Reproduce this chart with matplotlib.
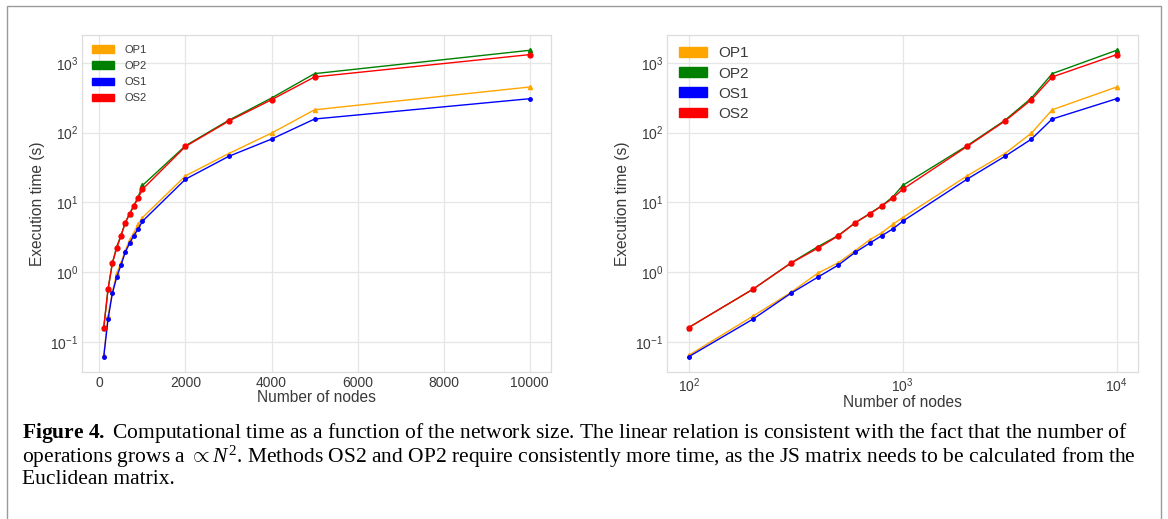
import matplotlib
matplotlib.use("Agg")
import matplotlib.pyplot as plt
from matplotlib.patches import Patch, Rectangle

# -----------------------------
# Data
# -----------------------------
nodes = [100, 200, 300, 400, 500, 600, 700, 800, 900, 1000, 2000, 3000, 4000, 5000, 10000]

op1_time = [0.064, 0.234, 0.51, 0.96, 1.36, 2.03, 2.89, 3.68, 4.85, 6.05, 24.0, 50.0, 98.6, 213, 452]
op2_time = [0.16, 0.57, 1.35, 2.30, 3.35, 5.1, 6.9, 9.0, 12.0, 17.5, 65.0, 150, 314, 703, 1520]
os1_time = [0.061, 0.212, 0.495, 0.84, 1.26, 1.92, 2.59, 3.34, 4.16, 5.36, 21.5, 45.6, 80.9, 157, 307]
os2_time = [0.16, 0.57, 1.34, 2.19, 3.30, 5.1, 6.8, 8.9, 11.5, 15.4, 63.4, 146, 297, 630, 1318]

series_labels = ["OP1", "OP2", "OS1", "OS2"]
series_colors = ["orange", "green", "blue", "red"]

caption_lines = [
    r"$\mathbf{Figure\ 4.\ }$Computational time as a function of the network size. "
    r"The linear relation is consistent with the fact that the number of",
    r"operations grows a $\propto N^2$. Methods OS2 and OP2 require consistently more time, "
    r"as the JS matrix needs to be calculated from the",
    "Euclidean matrix.",
]

TEXT_GREY = "#3a3a3a"
GRID_GREY = "#e6e6e6"

plt.rcParams["font.family"] = ["Liberation Sans", "DejaVu Sans"]
plt.rcParams["mathtext.fontset"] = "custom"
plt.rcParams["mathtext.rm"] = "Liberation Serif"
plt.rcParams["mathtext.it"] = "Liberation Serif:italic"
plt.rcParams["mathtext.bf"] = "Liberation Serif:bold"


def style_axes(ax, tick_size):
    ax.set_facecolor("white")
    ax.grid(True, which="major", color=GRID_GREY, linewidth=0.9)
    ax.set_axisbelow(True)
    for spine in ax.spines.values():
        spine.set_color("#dddddd")
        spine.set_linewidth(0.9)
    ax.tick_params(axis="both", which="both", length=0, labelsize=tick_size,
                   labelcolor=TEXT_GREY, pad=3)
    ax.minorticks_off()


def draw_series(ax):
    ax.plot(nodes, op1_time, color=series_colors[0], lw=1.0, marker="^", ms=3)
    ax.plot(nodes, op2_time, color=series_colors[1], lw=1.0, marker="^", ms=3)
    ax.plot(nodes, os1_time, color=series_colors[2], lw=1.0, marker="o", ms=2.5)
    ax.plot(nodes, os2_time, color=series_colors[3], lw=1.0, marker="o", ms=3.5)


def add_legend(ax, fontsize, anchor, handlelength, handleheight, spacing, textpad):
    handles = [Patch(facecolor=c, edgecolor=c, label=l)
               for c, l in zip(series_colors, series_labels)]
    leg = ax.legend(handles=handles, loc="upper left", bbox_to_anchor=anchor,
                    frameon=False, fontsize=fontsize, handlelength=handlelength,
                    handleheight=handleheight, labelspacing=spacing,
                    handletextpad=textpad, borderaxespad=0.0, borderpad=0.0)
    for text in leg.get_texts():
        text.set_color(TEXT_GREY)


fig = plt.figure(figsize=(11.68, 5.19), dpi=100)

# Left panel: linear x axis
ax1 = fig.add_axes([0.0706, 0.2832, 0.4011, 0.6494])
draw_series(ax1)
ax1.set_yscale("log")
ax1.set_xticks([0, 2000, 4000, 6000, 8000, 10000])
style_axes(ax1, 10)
ax1.set_xlabel("Number of nodes", fontsize=11.2, color=TEXT_GREY, labelpad=0)
ax1.set_ylabel("Execution time (s)", fontsize=11.2, color=TEXT_GREY, labelpad=3.5)
add_legend(ax1, 8, (0.02, 0.97), 2.0, 0.7, 0.55, 0.9)

# Right panel: log-log
ax2 = fig.add_axes([0.5714, 0.2832, 0.4029, 0.6494])
draw_series(ax2)
ax2.set_xscale("log")
ax2.set_yscale("log")
style_axes(ax2, 10)
ax2.set_xlabel("Number of nodes", fontsize=11.2, color=TEXT_GREY, labelpad=0.5)
ax2.set_ylabel("Execution time (s)", fontsize=11.2, color=TEXT_GREY, labelpad=3.5)
add_legend(ax2, 11, (0.025, 0.966), 1.8, 0.6, 0.4, 0.74)

# Caption below the panels, one text block
fig.text(22 / 1168, 1 - 421 / 519, "\n".join(caption_lines), family="Liberation Serif",
         fontsize=15.5, color="black", va="top", ha="left", linespacing=0.96)

# Page frame around the figure
fig.patches.append(Rectangle((7 / 1168, -0.05), 1154 / 1168, 1.05 - 6 / 519,
                             transform=fig.transFigure, fill=False,
                             edgecolor="#9a9a9a", linewidth=1.0))

fig.savefig("out.png", dpi=100, facecolor="white")
